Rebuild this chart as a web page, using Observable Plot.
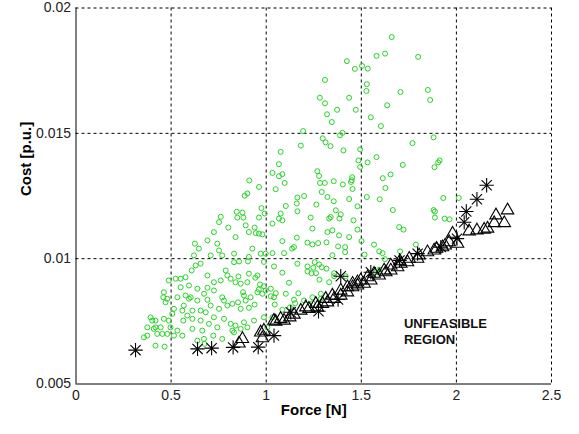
<!DOCTYPE html>
<html><head><meta charset="utf-8">
<script src="https://cdn.jsdelivr.net/npm/d3@7"></script>
<script src="https://cdn.jsdelivr.net/npm/@observablehq/plot@0.6"></script>
<style>html,body{margin:0;padding:0;background:#fff}</style>
</head><body><div id="chart"></div>
<script>
const xTicks = [0, 0.5, 1, 1.5, 2, 2.5];
const xTickLabels = ["0", "0.5", "1", "1.5", "2", "2.5"];
const yTicks = [0.005, 0.01, 0.015, 0.02];
const yTickLabels = ["0.005", "0.01", "0.015", "0.02"];
const xTitle = "Force [N]";
const yTitle = "Cost [p.u.]";
const noteLines = ["UNFEASIBLE", "REGION"];
const notePosition = [1.724, 0.00773];

// feasible solutions (green circles): [force, cost]
const feasible = [
[1.660,0.01884],[1.580,0.01809],[1.625,0.01818],[1.799,0.01805],[1.424,0.01788],[1.466,0.01757],[1.504,0.01769],[1.534,0.01758],[1.529,0.01696],[1.527,0.01669],[1.706,0.01665],[1.850,0.01673],[1.862,0.01633],[1.436,0.01642],[1.636,0.01612],[1.373,0.01594],[1.471,0.01594],[1.550,0.01564],[1.345,0.01545],[1.603,0.01529],[1.401,0.01502],[1.388,0.01492],[1.769,0.01461],[1.880,0.01484],[1.338,0.01449],[1.406,0.01432],[1.494,0.01436],[1.533,0.01384],[1.580,0.01405],[1.485,0.01392],[1.494,0.01366],[1.718,0.01374],[1.912,0.01392],[1.904,0.01384],[1.885,0.01365],[1.355,0.01309],[1.403,0.01296],[1.450,0.01313],[1.452,0.01325],[1.446,0.01306],[1.613,0.01321],[1.654,0.01336],[1.627,0.01282],[1.355,0.01229],[1.436,0.01238],[1.454,0.01278],[1.529,0.01246],[1.597,0.01237],[1.931,0.01242],[2.012,0.01242],[1.666,0.01194],[1.366,0.01193],[1.392,0.01177],[1.480,0.01209],[1.385,0.01160],[1.459,0.01153],[1.880,0.01194],[1.887,0.01188],[1.887,0.01164],[1.938,0.01160],[1.964,0.01157],[1.480,0.01116],[1.348,0.01113],[1.383,0.01093],[1.436,0.01086],[1.699,0.01126],[1.722,0.01116],[1.339,0.01166],[1.501,0.01070],[1.567,0.01056],[1.787,0.01056],
[1.517,0.01016],[1.594,0.01029],[1.612,0.01022],[1.624,0.00998],[1.704,0.01029],[1.594,0.00956],[1.576,0.00946],[1.378,0.01049],[1.415,0.01046],[1.415,0.01026],[1.348,0.01014],[1.357,0.00942],[1.357,0.00930],[1.418,0.00930],
[1.085,0.01070],[1.146,0.01046],[1.136,0.01040],[1.217,0.01064],[1.243,0.01057],[1.273,0.01062],[1.317,0.01065],[0.971,0.01020],[0.997,0.01020],[1.033,0.01022],[1.094,0.01022],[0.927,0.01040],[1.041,0.00969],[1.085,0.00944],[1.120,0.00904],[1.164,0.00980],[1.217,0.00969],[1.255,0.00986],[1.248,0.00964],[1.278,0.00977],[1.292,0.00966],[1.217,0.00949],[1.238,0.00942],[1.262,0.00942],[1.317,0.00960],[1.280,0.00916],[1.331,0.00906],[0.954,0.00933],[0.943,0.00924],[0.967,0.00897],[0.988,0.00890],[0.961,0.00877],[0.997,0.00873],[1.050,0.00862],[1.041,0.00846],[1.024,0.00850],[1.103,0.00860],[1.169,0.00862],[1.243,0.00846],[1.287,0.00860],[1.287,0.00840],[1.146,0.00836],[1.152,0.00822],[1.199,0.00833],[1.243,0.00822],[1.045,0.00817],[1.085,0.00796],[1.125,0.00806],[0.918,0.00846],[0.936,0.00753],[0.988,0.00766],[0.939,0.00817],[1.006,0.00726],[1.033,0.00766],[0.988,0.00987],[1.024,0.00880],[0.980,0.00860],[0.954,0.00866],
[1.309,0.01713],[1.282,0.01642],[1.309,0.01620],[1.320,0.01576],[1.194,0.01509],[1.297,0.01480],[1.312,0.01464],[1.182,0.01451],[1.076,0.01426],[1.067,0.01377],[1.033,0.01342],[1.067,0.01329],[1.085,0.01337],[1.097,0.01302],[1.050,0.01277],[0.962,0.01286],[1.269,0.01349],[1.278,0.01330],[1.283,0.01302],[1.308,0.01302],[1.292,0.01266],[1.322,0.01246],[1.164,0.01244],[1.199,0.01250],[1.161,0.01220],[1.103,0.01210],[1.264,0.01216],[1.164,0.01189],[1.076,0.01180],[1.085,0.01153],[1.067,0.01160],[1.033,0.01140],[1.234,0.01164],[1.243,0.01120],[1.331,0.01160],[1.322,0.01106],[0.975,0.01202],[0.992,0.01180],[0.962,0.01164],[0.939,0.01124],[0.945,0.01102],[0.962,0.01100],[0.980,0.01097],[1.161,0.01084],
[0.911,0.01312],[0.901,0.01260],[0.887,0.01251],[0.845,0.01187],[0.875,0.01184],[0.848,0.01164],[0.880,0.01164],[0.761,0.01167],
[0.752,0.01146],[0.801,0.01124],[0.839,0.01086],[0.892,0.01133],[0.909,0.01106],[0.725,0.01106],[0.691,0.01073],[0.743,0.01060],[0.625,0.01060],[0.646,0.01040],[0.708,0.01013],[0.769,0.01013],[0.831,0.01020],[0.909,0.01007],[0.831,0.00986],[0.620,0.01013],[0.655,0.00980],[0.608,0.00953],[0.691,0.00933],[0.725,0.00906],[0.761,0.00913],[0.787,0.00953],[0.796,0.00933],[0.813,0.00920],[0.839,0.00906],[0.866,0.00900],[0.901,0.00906],[0.909,0.00940],[0.883,0.00853],[0.892,0.00833],[0.866,0.00800],[0.852,0.00826],[0.909,0.00804],[0.901,0.00726],[0.866,0.00720],[0.831,0.00706],[0.769,0.00680],[0.813,0.00740],[0.778,0.00760],[0.743,0.00726],[0.699,0.00740],[0.655,0.00753],[0.612,0.00720],[0.664,0.00713],[0.638,0.00673],[0.676,0.00660],[0.612,0.00760],[0.564,0.00753],[0.585,0.00773],[0.612,0.00793],[0.655,0.00793],[0.682,0.00786],[0.708,0.00813],[0.725,0.00766],[0.752,0.00800],[0.638,0.00833],[0.691,0.00836],[0.567,0.00813],[0.559,0.00793],[0.515,0.00800],[0.506,0.00780],[0.533,0.00846],[0.576,0.00853],[0.594,0.00840],[0.550,0.00886],[0.594,0.00893],[0.638,0.00880],[0.673,0.00860],[0.725,0.00873],[0.769,0.00846],[0.778,0.00833],[0.796,0.00813],[0.822,0.00820],[0.524,0.00920],[0.550,0.00920],[0.576,0.00926],[0.488,0.00913],[0.462,0.00866],[0.471,0.00826],[0.459,0.00846],[0.480,0.00840],[0.488,0.00753],[0.462,0.00760],[0.497,0.00726],[0.533,0.00713],[0.559,0.00693],[0.515,0.00693],[0.480,0.00700],[0.454,0.00700],[0.427,0.00700],[0.445,0.00726],[0.418,0.00726],[0.401,0.00753],[0.392,0.00766],[0.418,0.00753],[0.375,0.00726],[0.409,0.00720],[0.357,0.00686],[0.375,0.00693],[0.418,0.00653],[0.466,0.00649],[0.673,0.00680],[0.722,0.00693],[0.822,0.00713],[0.839,0.00733],[0.883,0.00746],[0.752,0.01033],[0.854,0.00929],[0.691,0.00884],[0.603,0.00846],[0.878,0.00866],[0.857,0.00989],[0.904,0.00989],[0.629,0.00973]
];

// triangle front: [force, cost]
const triangleFront = [
[0.857,0.00662],[0.875,0.00680],[0.971,0.00706],[0.980,0.00683],[0.988,0.00713],[1.041,0.00753],[1.050,0.00749],[1.076,0.00760],[1.094,0.00753],[1.124,0.00766],[1.146,0.00777],[1.182,0.00793],[1.208,0.00806],[1.225,0.00800],[1.261,0.00820],[1.269,0.00806],[1.296,0.00820],[1.313,0.00840],[1.322,0.00826],[1.348,0.00853],[1.357,0.00840],[1.392,0.00873],[1.392,0.00853],[1.427,0.00886],[1.427,0.00866],[1.454,0.00900],[1.454,0.00886],[1.480,0.00906],[1.480,0.00893],[1.497,0.00913],[1.515,0.00900],[1.533,0.00926],[1.550,0.00913],[1.567,0.00940],[1.594,0.00933],[1.620,0.00953],[1.629,0.00946],[1.655,0.00973],[1.655,0.00953],[1.691,0.00966],[1.703,0.00990],[1.708,0.00980],[1.743,0.00986],[1.752,0.01000],[1.796,0.01000],[1.804,0.01013],[1.848,0.01026],[1.883,0.01033],[1.896,0.01040],[1.927,0.01046],[1.941,0.01053],[1.962,0.01066],[1.980,0.01100],[2.006,0.01060],[2.067,0.01109],[2.108,0.01113],[2.146,0.01116],[2.164,0.01120],[2.199,0.01142],[2.208,0.01173],[2.252,0.01142],[2.269,0.01193]
];

// star front: [force, cost]
const starFront = [
[0.313,0.00635],[0.639,0.00640],[0.713,0.00643],[0.826,0.00646],[0.958,0.00647],[1.041,0.00693],[1.129,0.00786],[1.275,0.00790],[1.378,0.00837],[1.392,0.00930],[1.550,0.00946],[1.701,0.00993],[1.796,0.01020],[1.918,0.01046],[2.003,0.01080],[2.041,0.01145],[2.052,0.01188],[2.108,0.01237],[2.159,0.01293]
];

const fx = d => d[0], fy = d => d[1];
const font = "'Liberation Sans', Arial, Helvetica, sans-serif";

const chart = Plot.plot({
  width: 579,
  height: 434,
  marginLeft: 75.5,
  marginRight: 28,
  marginTop: 7.5,
  marginBottom: 50.5,
  style: {fontFamily: font, fontSize: "14px", background: "#fff", color: "#000"},
  x: {domain: [xTicks[0], xTicks[xTicks.length - 1]]},
  y: {domain: [yTicks[0], yTicks[yTicks.length - 1]]},
  marks: [
    Plot.ruleX(xTicks.slice(1), {stroke: "#000", strokeWidth: 1, strokeDasharray: "3,3"}),
    Plot.ruleY(yTicks.slice(1), {stroke: "#000", strokeWidth: 1, strokeDasharray: "3,3"}),
    Plot.ruleX([xTicks[0]], {stroke: "#000", strokeWidth: 1}),
    Plot.ruleY([yTicks[0]], {stroke: "#000", strokeWidth: 1}),
    Plot.dot(feasible, {x: fx, y: fy, r: 2.5, stroke: "#26d426", strokeWidth: 1, fill: "none"}),
    Plot.dot(triangleFront, {x: fx, y: fy, symbol: "triangle", r: 4.6, stroke: "#000", strokeWidth: 1.1, fill: "none"}),
    Plot.dot(starFront, {x: fx, y: fy, symbol: "plus", r: 4.7, stroke: "#000", strokeWidth: 1.1}),
    Plot.dot(starFront, {x: fx, y: fy, symbol: "times", r: 4.7, stroke: "#000", strokeWidth: 1.1}),
    Plot.text([noteLines.join("\n")], {x: notePosition[0], y: notePosition[1], textAnchor: "start", lineAnchor: "top", fontWeight: "bold", fontSize: 13, lineHeight: 1.3, fill: "#111"}),
    Plot.axisX({ticks: xTicks, tickFormat: d => xTickLabels[xTicks.indexOf(d)], tickSize: 0, tickPadding: 6, fontSize: 14, fill: "#222", label: null}),
    Plot.axisY({ticks: yTicks, tickFormat: d => yTickLabels[yTicks.indexOf(d)], tickSize: 0, tickPadding: 5, fontSize: 14, fill: "#222", label: null}),
    Plot.text([xTitle], {frameAnchor: "bottom", dy: 31, fontWeight: "bold", fontSize: 15, fill: "#000"}),
    Plot.text([yTitle], {frameAnchor: "left", dx: -50, rotate: -90, fontWeight: "bold", fontSize: 15, fill: "#000"})
  ]
});
document.getElementById("chart").appendChild(chart);
</script>
</body></html>
